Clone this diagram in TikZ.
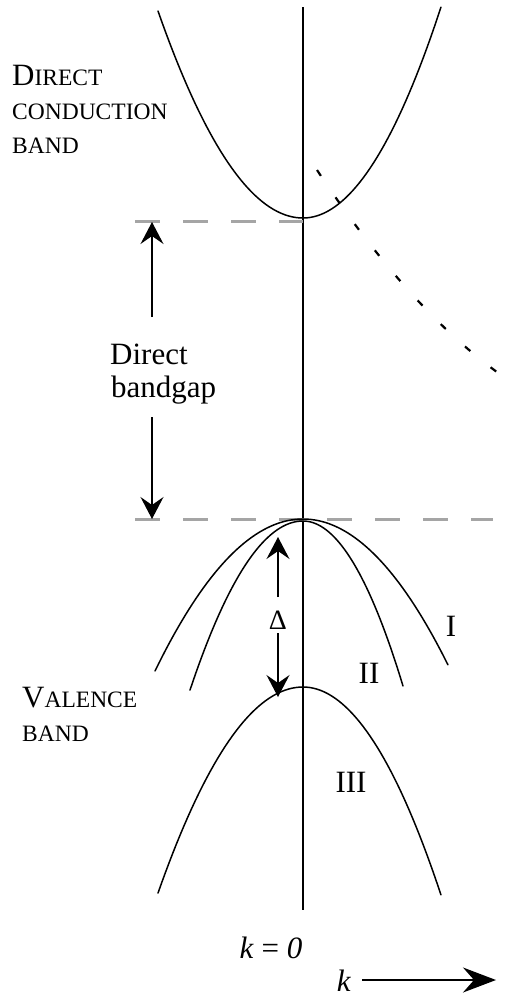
\documentclass[tikz,border=0pt]{standalone}
\usepackage{fontspec}
\setmainfont{Liberation Serif}
\usetikzlibrary{arrows.meta}
\definecolor{dashgray}{RGB}{165,165,165}
\newcommand\mysc[1]{{\fontsize{23.5}{34}\selectfont #1}}
\begin{document}
\begin{tikzpicture}[x=1pt,y=-1pt,
  band/.style={line width=1.5pt, line cap=round},
  axisline/.style={line width=2.5pt},
  gapline/.style={draw=dashgray, line width=3pt, dash pattern=on 25pt off 23pt},
  indirect/.style={line width=2.2pt, dash pattern=on 7pt off 26pt},
  arr/.style={line width=1.4pt, -{Stealth[length=22pt,width=23pt,inset=8pt]}},
  karr/.style={line width=1.4pt, -{Stealth[length=33pt,width=25pt,inset=11pt]}},
  lbl/.style={inner sep=0pt, anchor=base west, font=\fontsize{31}{34}\selectfont},
  num/.style={inner sep=0pt, anchor=center, font=\fontsize{31}{34}\selectfont}]
\useasboundingbox (0,0) rectangle (513,997);

% axis
\coordinate (axtop) at (303,7);
\coordinate (axbot) at (303,910);
\draw[axisline] (axtop) -- (axbot);

% dashed gap lines
\coordinate (dl1) at (135,221);
\coordinate (dr1) at (303,221);
\coordinate (dl2) at (135,519);
\coordinate (dr2) at (493,519);
\draw[gapline] (dl1) -- (dr1);
\draw[gapline] (dl2) -- (dr2);

% conduction band
\draw[band] plot[domain=-1.45:0, samples=40] ({303+100*\x},{218-98.45*\x*\x})
  -- plot[domain=0:1.38, samples=40] ({303+100*\x},{218-110.8*\x*\x});

% indirect (dotted) band
\draw[indirect] plot[domain=0:1.9, samples=50] ({317+100*\x},{170+151.5*\x-21.8*\x*\x});

% valence bands
\draw[band] plot[domain=-1.48:1.45, samples=80] ({303+100*\x},{519+69.4*\x*\x});
\draw[band] plot[domain=-1.13:0, samples=40] ({303+100*\x},{521+132.4*\x*\x})
  -- plot[domain=0:1.0, samples=40] ({303+100*\x},{521+165*\x*\x});
\draw[band] plot[domain=-1.45:0, samples=40] ({303+100*\x},{687+98.0*\x*\x})
  -- plot[domain=0:1.38, samples=40] ({303+100*\x},{687+109.2*\x*\x});

% labels
\node[lbl] (dc1) at (12,85) {D\mysc{IRECT}};
\node[lbl] (dc2) at (12,119) {\mysc{CONDUCTION}};
\node[lbl] (dc3) at (12,153) {\mysc{BAND}};
\node[lbl] (vb1) at (22,707) {V\mysc{ALENCE}};
\node[lbl] (vb2) at (22,741) {\mysc{BAND}};
\node[lbl] (bg1) at (110,364) {Direct};
\node[lbl] (bg2) at (111,397) {bandgap};
\node[num] (nI) at (451,626) {I};
\node[num] (nII) at (369,673) {II};
\node[num] (nIII) at (351,782) {III};
\node[num, font=\fontsize{28}{30}\selectfont] (delta) at (278,620) {Δ};
\node[num] (k0) at (271,948) {\textit{k} = \textit{0}};
\node[num] (k) at (344,981) {\textit{k}};

% bandgap arrows
\coordinate (bgup) at (152,317);
\coordinate (bgdn) at (152,417);
\coordinate (cbtop) at (152,222);
\coordinate (vbtop) at (152,519);
\draw[arr] (bgup) -- (cbtop);
\draw[arr] (bgdn) -- (vbtop);

% Delta arrows
\coordinate (dup) at (278,597);
\coordinate (dupend) at (278,537);
\coordinate (ddn) at (278,633);
\coordinate (ddnend) at (278,697);
\draw[arr] (dup) -- (dupend);
\draw[arr] (ddn) -- (ddnend);

% k arrow
\coordinate (kstart) at (362,980);
\coordinate (kend) at (496,980);
\draw[karr] (kstart) -- (kend);
\end{tikzpicture}
\end{document}
